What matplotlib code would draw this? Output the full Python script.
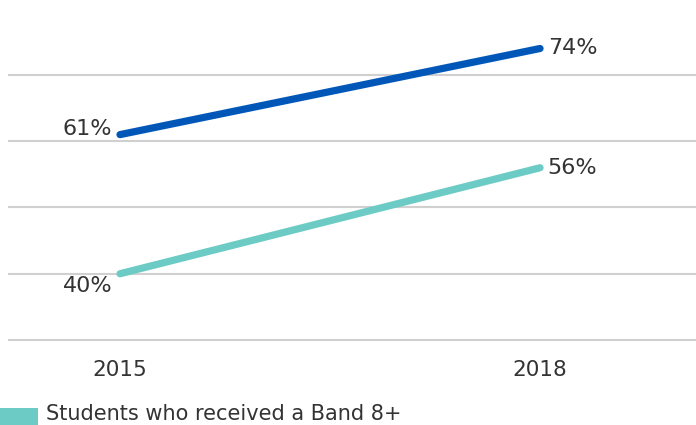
import matplotlib
matplotlib.use("Agg")
import matplotlib.pyplot as plt
from matplotlib.patches import Rectangle

years = [2015, 2018]
series_top = [61, 74]      # dark blue line
series_band8 = [40, 56]    # teal line
legend_label = "Students who received a Band 8+"
grid_values = [30, 40, 50, 60, 70]

dark_blue = "#0057B8"
teal = "#6CCBC4"
text_col = "#333333"

plt.rcParams['font.family'] = ['DejaVu Sans']

fig = plt.figure(figsize=(6.96, 4.25), dpi=100)
ax = fig.add_axes([8/696, 1 - 343.3/425, 1 - 8/696, (343.3 - 8.75)/425])

ax.plot(years, series_top, color=dark_blue, lw=5.2, solid_capstyle='round', zorder=3)
ax.plot(years, series_band8, color=teal, lw=5.2, solid_capstyle='round', zorder=3)

ax.set_xlim(2015 - 0.8, 2018 + 1.114)
ax.set_ylim(29.5, 80)
ax.set_yticks(grid_values)
ax.set_yticklabels([])
ax.tick_params(axis='y', length=0)
ax.grid(axis='y', color='#d0d0d0', lw=1.5)
ax.set_axisbelow(True)
for s in ax.spines.values():
    s.set_visible(False)

ax.set_xticks(years)
ax.set_xticklabels([str(y) for y in years], fontsize=15.5, color=text_col)
ax.tick_params(axis='x', length=0, pad=12)

fs = 16
off = 0.055
ax.text(years[0] - off, series_top[0] + 0.8, f"{series_top[0]}%", ha='right', va='center',
        fontsize=fs, color=text_col)
ax.text(years[0] - off, series_band8[0] - 1.8, f"{series_band8[0]}%", ha='right', va='center',
        fontsize=fs, color=text_col)
ax.text(years[1] + off, series_top[1] + 0.1, f"{series_top[1]}%", ha='left', va='center',
        fontsize=fs, color=text_col)
ax.text(years[1] + off, series_band8[1] - 0.1, f"{series_band8[1]}%", ha='left', va='center',
        fontsize=fs, color=text_col)

fig.patches.append(Rectangle((0, 0), 38/696, 17/425, transform=fig.transFigure,
                             facecolor=teal, edgecolor='none'))
fig.text(46/696, 1/425, legend_label, ha='left', va='bottom', fontsize=15, color=text_col)

fig.savefig("out.png", dpi=100)
